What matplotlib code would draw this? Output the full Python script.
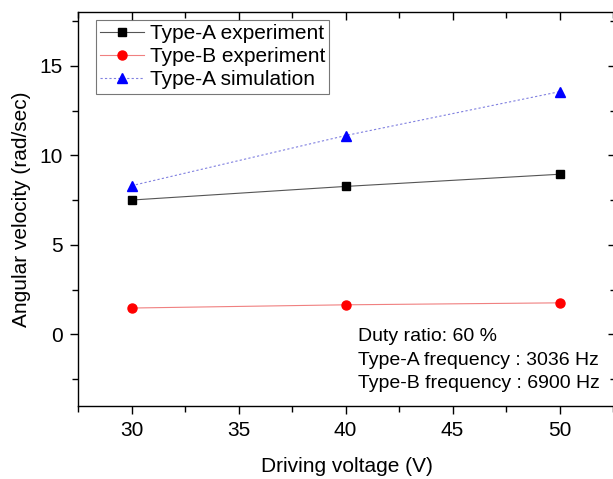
import matplotlib
matplotlib.use("Agg")
import matplotlib.pyplot as plt
from matplotlib.ticker import MultipleLocator

plt.rcParams['font.family'] = ['Liberation Sans', 'DejaVu Sans']

# driving voltage (V)
voltage = [30, 40, 50]
# angular velocity (rad/sec)
type_a_exp = [7.5, 8.26, 8.94]
type_b_exp = [1.47, 1.65, 1.76]
type_a_sim = [8.3, 11.1, 13.55]

fig = plt.figure(figsize=(6.13, 4.79), dpi=100)
# right spine sits just past the image edge, as in the original
ax = fig.add_axes([78/613, 1-406/479, 538/613, (406-12)/479])

ax.plot(voltage, type_a_exp, color='#555555', lw=0.8, marker='s', ms=6.2,
        mfc='black', mec='black', label='Type-A experiment')
ax.plot(voltage, type_b_exp, color='#f08080', lw=0.8, marker='o', ms=6.5,
        mfc='red', mec='red', label='Type-B experiment')
ax.plot(voltage, type_a_sim, color='#8080e0', lw=0.8, ls=(0, (2, 2)), marker='^', ms=7.5,
        mfc='blue', mec='blue', label='Type-A simulation')

ax.set_xlim(27.5, 52.64)
ax.set_ylim(-4, 18)
ax.xaxis.set_major_locator(MultipleLocator(5))
ax.xaxis.set_minor_locator(MultipleLocator(2.5))
ax.yaxis.set_major_locator(MultipleLocator(5))
ax.yaxis.set_minor_locator(MultipleLocator(2.5))

ax.tick_params(which='both', direction='out', labelsize=15, width=1, pad=5)
ax.tick_params(which='major', length=6)
ax.tick_params(which='minor', length=4)
ax.tick_params(which='both', top=True, right=True)
for s in ax.spines.values():
    s.set_linewidth(1)

# top/right ticks point inward like the original
for t in ax.xaxis.get_major_ticks() + ax.xaxis.get_minor_ticks():
    t.tick2line.set_marker(matplotlib.lines.TICKDOWN)
for t in ax.yaxis.get_major_ticks() + ax.yaxis.get_minor_ticks():
    t.tick2line.set_marker(matplotlib.lines.TICKLEFT)

ax.set_xlabel('Driving voltage (V)', fontsize=15, labelpad=12)
ax.set_ylabel('Angular velocity (rad/sec)', fontsize=15, labelpad=6)

leg = ax.legend(loc='upper left', bbox_to_anchor=(0.033, 0.98), fontsize=15,
                frameon=True, fancybox=False, edgecolor='#555555',
                handlelength=2.1, handletextpad=0.3, borderpad=0.2,
                labelspacing=0.2, borderaxespad=0)
leg.get_frame().set_linewidth(0.8)

ax.text(40.6, -1.45, 'Duty ratio: 60 %\nType-A frequency : 3036 Hz\nType-B frequency : 6900 Hz',
        fontsize=14, va='center', ha='left', linespacing=1.5)

fig.savefig('out.png', dpi=100)
